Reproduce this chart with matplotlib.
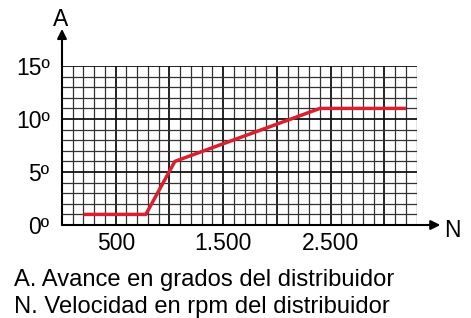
import matplotlib.pyplot as plt
import numpy as np

plt.rcParams['font.family'] = ['Liberation Sans', 'DejaVu Sans']

# datos
rpm = [200, 780, 1050, 2400, 3200]
avance = [1, 1, 6, 11, 11]

x_ticks = [500, 1500, 2500]
x_labels = ['500', '1.500', '2.500']
y_ticks = [0, 5, 10, 15]
y_labels = ['0º', '5º', '10º', '15º']

W, H = 471, 318
fig = plt.figure(figsize=(W / 100, H / 100), dpi=100)

# zona de la cuadrícula en píxeles
x0, x1 = 62, 416.7
y0, y1 = 225, 66
ax = fig.add_axes([x0 / W, 1 - y0 / H, (x1 - x0) / W, (y0 - y1) / H])
ax.set_xlim(0, 3300)
ax.set_ylim(0, 15)
for s in ax.spines.values():
    s.set_visible(False)

# cuadrícula milimetrada
for xv in range(100, 3301, 100):
    major = xv % 500 == 0
    ax.axvline(xv, color='#111111' if major else '#333333',
               lw=1.3 if major else 0.9, zorder=1)
for yv in range(1, 16):
    major = yv % 5 == 0
    ax.axhline(yv, color='#111111' if major else '#333333',
               lw=1.3 if major else 0.9, zorder=1)

# ejes con flecha
ax.annotate('', xy=(0, 18.5), xytext=(0, 0), annotation_clip=False,
            arrowprops=dict(arrowstyle='-|>', color='black', lw=1.5,
                            mutation_scale=14, shrinkA=0, shrinkB=0))
ax.annotate('', xy=(3520, 0), xytext=(0, 0), annotation_clip=False,
            arrowprops=dict(arrowstyle='-|>', color='black', lw=1.5,
                            mutation_scale=14, shrinkA=0, shrinkB=0))

# curva de avance
ax.plot(rpm, avance, color='#d8202e', lw=2.5, zorder=3, solid_capstyle='butt',
        clip_on=False)

ax.set_xticks(x_ticks)
ax.set_xticklabels(x_labels, fontsize=16.5)
ax.set_yticks(y_ticks)
ax.set_yticklabels(y_labels, fontsize=16.5)
ax.tick_params(axis='x', length=0, pad=5)
ax.tick_params(axis='y', length=0, pad=9)

fig.text(61 / W, 1 - 26 / H, 'A', fontsize=16.5, ha='center', va='baseline')
fig.text(452 / W, 1 - 237 / H, 'N', fontsize=16.5, ha='center', va='baseline')

fig.text(14 / W, 1 - 286 / H, 'A. Avance en grados del distribuidor',
         fontsize=17.1, ha='left', va='baseline')
fig.text(14 / W, 1 - 313 / H, 'N. Velocidad en rpm del distribuidor',
         fontsize=17.1, ha='left', va='baseline')

fig.savefig('out.png', dpi=100)
